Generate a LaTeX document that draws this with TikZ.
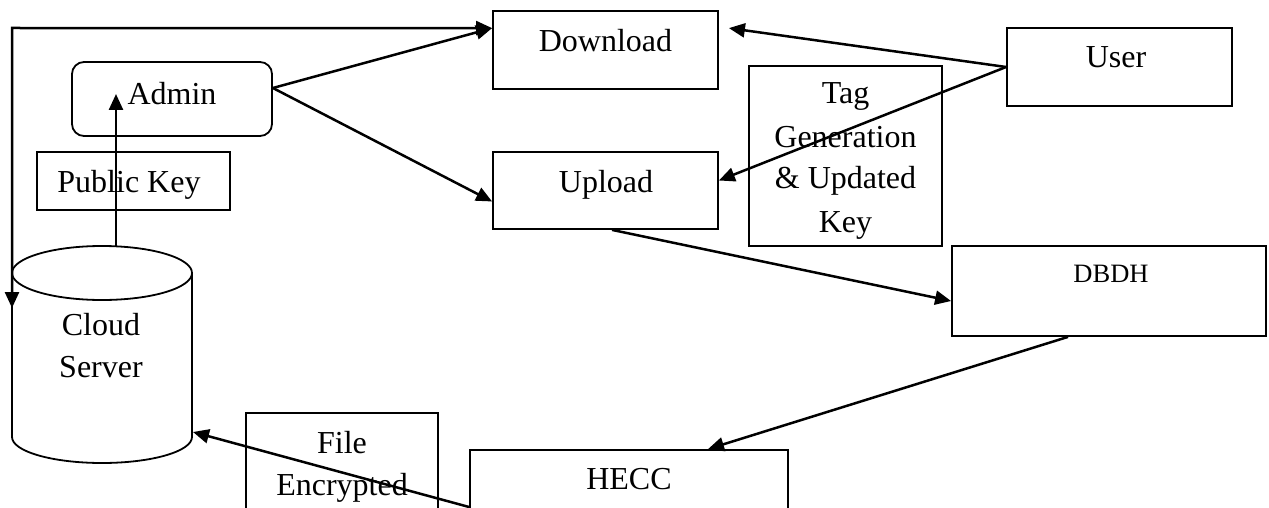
\documentclass[tikz,border=0pt]{standalone}
\usepackage{fontspec}
\setmainfont{Liberation Serif}
\usetikzlibrary{arrows.meta}
\begin{document}
\begin{tikzpicture}[x=1pt,y=-1pt,
  box/.style={draw, line width=1.8pt, rectangle, inner sep=0pt},
  txt/.style={font=\fontsize{32}{42}\selectfont, inner sep=0pt, anchor=base},
  arr/.style={line width=2.5pt, -{Triangle[length=16pt,width=14pt]}},
  darr/.style={line width=2.5pt, {Triangle[length=16pt,width=14pt]}-{Triangle[length=16pt,width=14pt]}},
]
\useasboundingbox (0,0) rectangle (1269,508);
\clip (0,0) rectangle (1269,508);

% boxes
\node[box, minimum width=225pt, minimum height=78pt] (download) at (605.5,50) {};
\node[box, minimum width=225pt, minimum height=77pt] (upload) at (605.5,190.5) {};
\node[box, minimum width=225pt, minimum height=78pt] (user) at (1119.5,67) {};
\node[box, minimum width=193pt, minimum height=180pt] (tag) at (845.5,156) {};
\node[box, minimum width=314pt, minimum height=90pt] (dbdh) at (1109,291) {};
\node[box, minimum width=318pt, minimum height=90pt] (hecc) at (629,495) {};
\node[box, minimum width=192pt, minimum height=110pt] (file) at (342,468) {};
\node[box, rounded corners=12pt, minimum width=200pt, minimum height=74pt] (admin) at (172,99) {};
\node[box, minimum width=193pt, minimum height=58pt] (pubkey) at (133.5,181) {};

% cylinder
\draw[line width=1.8pt] (12,273) -- (12,437) arc[start angle=180, end angle=360, x radius=90pt, y radius=26pt] -- (192,273);
\draw[line width=1.8pt] (102,273) ellipse [x radius=90pt, y radius=27pt];

% texts
\node[txt] (downloadT) at (605.5,52) {Download};
\node[txt] (uploadT) at (606,192) {Upload};
\node[txt] (userT) at (1116,68) {User};
\node[txt] (tag1) at (845.5,104) {Tag};
\node[txt] (tag2) at (845.5,148) {Generation};
\node[txt] (tag3) at (845.5,189) {\& Updated};
\node[txt] (tag4) at (845.5,232) {Key};
\node[txt, font=\fontsize{26.5}{32}\selectfont] (dbdhT) at (1111,282) {DBDH};
\node[txt] (heccT) at (629,489) {HECC};
\node[txt] (file1) at (342,453) {File};
\node[txt] (file2) at (342,495) {Encrypted};
\node[txt] (adminT) at (172,105) {Admin};
\node[txt] (pubkeyT) at (129,193) {Public Key};
\node[txt] (cloud1) at (101,335) {Cloud};
\node[txt] (cloud2) at (101,377) {Server};

% connector end points
\coordinate (cylL) at (12,308);
\coordinate (cylT) at (116,246);
\coordinate (cylR) at (193,432);
\coordinate (corner) at (12,28);

% connectors
\draw[darr] (cylL) -- (corner) -- ([yshift=-18pt]download.north west);
\draw[arr] ([yshift=11pt]admin.east) -- ([yshift=-18pt]download.north west);
\draw[arr] ([yshift=11pt]admin.east) -- ([yshift=-11pt]upload.west);
\draw[arr] (user.west) -- ([xshift=10pt,yshift=-18pt]download.north east);
\draw[arr] (user.west) -- ([yshift=10pt]upload.east);
\draw[arr] ([xshift=6.5pt]upload.south) -- ([yshift=-10pt]dbdh.west);
\draw[arr] ([xshift=-41pt]dbdh.south) -- ([xshift=79pt]hecc.north);
\draw[arr] ([yshift=-12pt]hecc.west) -- (cylR);
\draw[arr] (cylT) -- ([xshift=-56pt,yshift=5pt]admin.center);
\end{tikzpicture}
\end{document}
